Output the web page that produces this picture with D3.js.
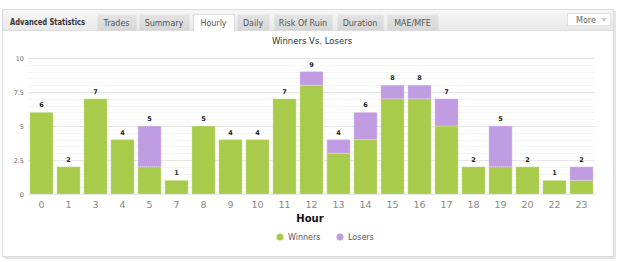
<!DOCTYPE html>
<html>
<head>
<meta charset="utf-8">
<script src="https://cdn.jsdelivr.net/npm/d3@7"></script>
<style>
  body { margin: 0; background: #fff; }
  text { font-family: "DejaVu Sans", Verdana, sans-serif; }
</style>
</head>
<body>
<script>
// Chart data
var hours = ["0", "1", "3", "4", "5", "7", "8", "9", "10", "11", "12", "13", "14", "15", "16", "17", "18", "19", "20", "22", "23"];
var winners = [6, 2, 7, 4, 2, 1, 5, 4, 4, 7, 8, 3, 4, 7, 7, 5, 2, 2, 2, 1, 1];
var losers = [0, 0, 0, 0, 3, 0, 0, 0, 0, 0, 1, 1, 2, 1, 1, 2, 0, 3, 0, 0, 1];
var yTicks = [0, 2.5, 5, 7.5, 10];
var tabs = ["Trades", "Summary", "Hourly", "Daily", "Risk Of Ruin", "Duration", "MAE/MFE"];
var tabX = [97, 139, 193, 237, 274, 337, 387];
var tabW = [39, 50, 41, 32, 58, 46, 51];

var width = 624;
var height = 262;

var svg = d3.select("body")
    .append("svg")
    .attr("width", width)
    .attr("height", height)

// Panel with shadow
svg.append("rect").attr("x", 4).attr("y", 11).attr("width", 612).attr("height", 248).attr("fill", "#e6e6e6");
svg.append("rect").attr("x", 2.5).attr("y", 9.5).attr("width", 611).attr("height", 247)
    .attr("fill", "#fff").attr("stroke", "#dcdcdc");

// Header band
var grad = svg.append("defs").append("linearGradient").attr("id", "hdr").attr("x1", 0).attr("y1", 0).attr("x2", 0).attr("y2", 1);
grad.append("stop").attr("offset", "0%").attr("stop-color", "#f7f7f7");
grad.append("stop").attr("offset", "100%").attr("stop-color", "#e9e9e9");
var tgrad = svg.select("defs").append("linearGradient").attr("id", "tab").attr("x1", 0).attr("y1", 0).attr("x2", 0).attr("y2", 1);
tgrad.append("stop").attr("offset", "0%").attr("stop-color", "#e4e4e4");
tgrad.append("stop").attr("offset", "100%").attr("stop-color", "#d6d6d6");

svg.append("rect").attr("x", 3).attr("y", 10).attr("width", 610).attr("height", 20).attr("fill", "url(#hdr)");
svg.append("line").attr("x1", 3).attr("x2", 613).attr("y1", 30.5).attr("y2", 30.5).attr("stroke", "#dcdcdc");

svg.append("text").attr("x", 10).attr("y", 25)
    .attr("font-size", 8.5).attr("font-weight", "bold").attr("fill", "#333")
    .attr("textLength", 75).attr("lengthAdjust", "spacingAndGlyphs")
    .text("Advanced Statistics");

tabs.forEach(function (t, i) {
    var active = t == "Hourly";
    svg.append("rect")
        .attr("x", tabX[i] + 0.5).attr("y", 14.5)
        .attr("width", tabW[i]).attr("height", active ? 17 : 16)
        .attr("fill", active ? "#fff" : "url(#tab)")
        .attr("stroke", active ? "#dcdcdc" : "none");
    svg.append("text")
        .attr("x", tabX[i] + tabW[i] / 2).attr("y", 26)
        .attr("text-anchor", "middle").attr("font-size", 8).attr("fill", "#555")
        .text(t);
});
// hide the bottom border under the active tab
svg.append("rect").attr("x", 194).attr("y", 29).attr("width", 40).attr("height", 3).attr("fill", "#fff");

// More button
svg.append("rect").attr("x", 567.5).attr("y", 13.5).attr("width", 43).attr("height", 12)
    .attr("fill", "#fff").attr("stroke", "#e0e0e0");
svg.append("text").attr("x", 576).attr("y", 23).attr("font-size", 8).attr("fill", "#666").text("More");
svg.append("path").attr("d", "M601,18 L607,18 L604,22 Z").attr("fill", "#ccc");

// Chart title
svg.append("text").attr("x", 312).attr("y", 44)
    .attr("text-anchor", "middle").attr("font-size", 8.5).attr("fill", "#333")
    .text("Winners Vs. Losers");

// Scales
var x = d3.scaleBand().domain(hours).range([28, 595]).paddingInner(0.14).paddingOuter(0.07);
var y = d3.scaleLinear().domain([0, 10]).range([194, 58]);

// Grid lines
var minor = d3.range(0, 10.01, 0.5);
svg.append("g").selectAll("line").data(minor).enter().append("line")
    .attr("x1", 28).attr("x2", 595)
    .attr("y1", function (d) { return Math.round(y(d)) + 0.5; })
    .attr("y2", function (d) { return Math.round(y(d)) + 0.5; })
    .attr("stroke", function (d) { return yTicks.indexOf(d) >= 0 ? "#e6e6e6" : "#f5f5f5"; });

// Y axis labels
svg.append("g").selectAll("text").data(yTicks).enter().append("text")
    .attr("x", 24).attr("y", function (d) { return y(d) + 2.5; })
    .attr("text-anchor", "end").attr("font-size", 6.5).attr("fill", "#666")
    .text(function (d) { return d; });

// Bars
var bars = svg.append("g");
hours.forEach(function (h, i) {
    bars.append("rect")
        .attr("x", x(h)).attr("width", x.bandwidth())
        .attr("y", y(winners[i])).attr("height", y(0) - y(winners[i]))
        .attr("fill", "#a9cb4b").attr("stroke", "#e8f0d0").attr("stroke-width", 0.6).attr("stroke-dasharray", "1,1");
    if (losers[i] > 0) {
        bars.append("rect")
            .attr("x", x(h)).attr("width", x.bandwidth())
            .attr("y", y(winners[i] + losers[i])).attr("height", y(winners[i]) - y(winners[i] + losers[i]))
            .attr("fill", "#c29ce3").attr("stroke", "#eee0f7").attr("stroke-width", 0.6).attr("stroke-dasharray", "1,1");
    }
    bars.append("text")
        .attr("x", x(h) + x.bandwidth() / 2).attr("y", y(winners[i] + losers[i]) - 5)
        .attr("text-anchor", "middle").attr("font-size", 6.5).attr("font-weight", "bold").attr("fill", "#222")
        .text(winners[i] + losers[i]);
});

// X axis labels
var xAxis = svg.append("g")
    .attr("transform", "translate(0,198)")
    .call(d3.axisBottom(x).tickSize(0).tickPadding(3));
xAxis.select(".domain").remove();
xAxis.selectAll("text").attr("font-size", 9.5).attr("fill", "#888")
    .attr("font-family", "DejaVu Sans, Verdana, sans-serif");

svg.append("text").attr("x", 310).attr("y", 222)
    .attr("text-anchor", "middle").attr("font-size", 10).attr("font-weight", "bold").attr("fill", "#111")
    .text("Hour");

// Legend
var legend = [["Winners", "#a9cb4b", 280], ["Losers", "#c29ce3", 340]];
legend.forEach(function (l) {
    svg.append("circle").attr("cx", l[2]).attr("cy", 237).attr("r", 3.5).attr("fill", l[1]);
    svg.append("text").attr("x", l[2] + 8).attr("y", 240).attr("font-size", 8).attr("fill", "#555").text(l[0]);
});
</script>
</body>
</html>
